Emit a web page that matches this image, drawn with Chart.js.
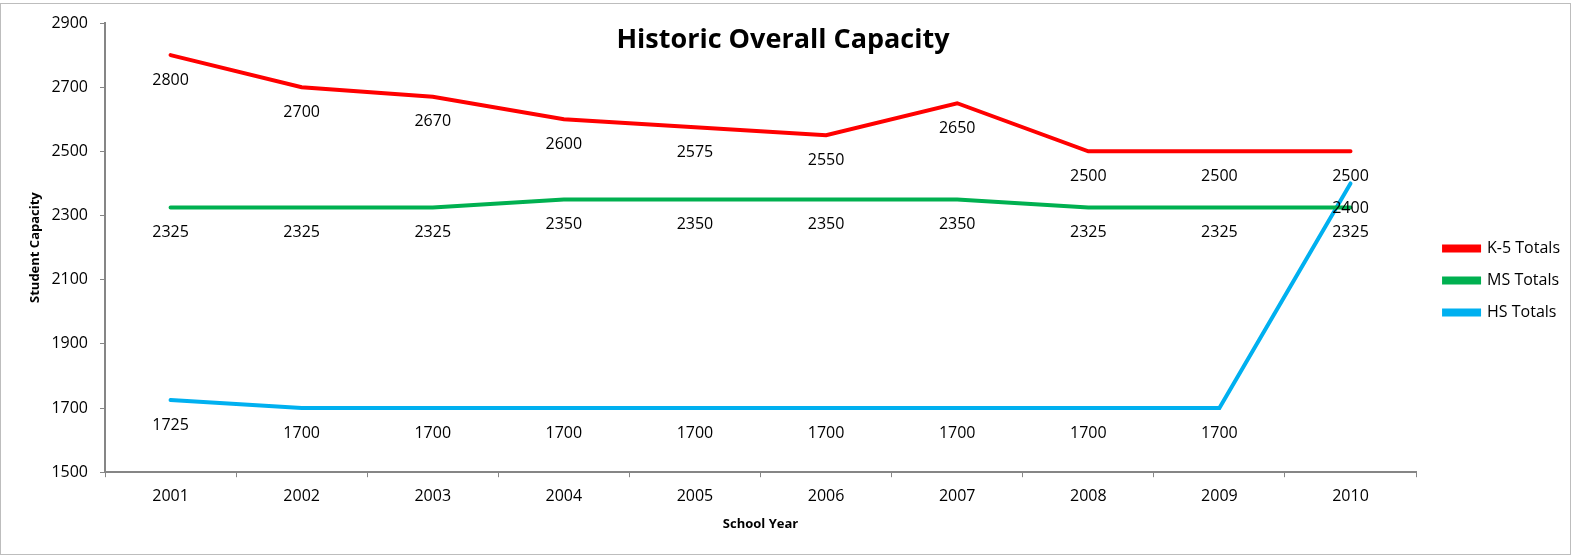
<!DOCTYPE html>
<html>
<head>
<meta charset="utf-8">
<script src="https://cdn.jsdelivr.net/npm/chart.js@4.4.0/dist/chart.umd.min.js"></script>
<style>
  html, body { margin: 0; padding: 0; background: #fff; }
  #wrap { width: 1573px; height: 556px; }
</style>
</head>
<body>
<div id="wrap"><canvas id="capacityChart" width="1573" height="556"></canvas></div>
<script>
// data
const years = ["2001", "2002", "2003", "2004", "2005", "2006", "2007", "2008", "2009", "2010"];
const k5Totals = [2800, 2700, 2670, 2600, 2575, 2550, 2650, 2500, 2500, 2500];
const msTotals = [2325, 2325, 2325, 2350, 2350, 2350, 2350, 2325, 2325, 2325];
const hsTotals = [1725, 1700, 1700, 1700, 1700, 1700, 1700, 1700, 1700, 2400];

const FONT = "'Open Sans', 'Liberation Sans', sans-serif";

// value labels under every point
const valueLabels = {
  id: "valueLabels",
  afterDatasetsDraw(chart) {
    const ctx = chart.ctx;
    ctx.save();
    ctx.font = "16px " + FONT;
    ctx.fillStyle = "#000";
    ctx.textAlign = "center";
    ctx.textBaseline = "middle";
    chart.data.datasets.forEach((ds, i) => {
      chart.getDatasetMeta(i).data.forEach((pt, j) => {
        ctx.fillText(String(ds.data[j]), pt.x, pt.y + 25);
      });
    });
    ctx.restore();
  },
};

// nudge the legend a bit away from the plot, like the original
const legendNudge = {
  id: "legendNudge",
  afterLayout(chart) {
    const lg = chart.legend;
    lg.left += 12;
    lg.right += 12;
    lg.top += 3;
    lg.bottom += 3;
  },
};

// title sits inside the plot and a thin frame goes round the chart
const frameAndTitle = {
  id: "frameAndTitle",
  afterDraw(chart) {
    const ctx = chart.ctx;
    ctx.save();
    ctx.strokeStyle = "#bdbdbd";
    ctx.lineWidth = 1;
    ctx.strokeRect(0.5, 3.5, 1570, 551);
    ctx.font = "bold 27px " + FONT;
    ctx.fillStyle = "#000";
    ctx.textAlign = "center";
    ctx.textBaseline = "middle";
    ctx.fillText("Historic Overall Capacity", 783, 40);
    ctx.restore();
  },
};

const ctx = document.getElementById("capacityChart").getContext("2d");
const capacityChart = new Chart(ctx, {
  type: "line",
  data: {
    labels: years,
    datasets: [
      { label: "K-5 Totals", data: k5Totals, borderColor: "#ff0000", backgroundColor: "#ff0000" },
      { label: "MS Totals", data: msTotals, borderColor: "#00b050", backgroundColor: "#00b050" },
      { label: "HS Totals", data: hsTotals, borderColor: "#00b0f0", backgroundColor: "#00b0f0" },
    ],
  },
  options: {
    responsive: false,
    animation: false,
    layout: { padding: { left: 27, top: 23, right: 15, bottom: 24 } },
    elements: {
      line: { borderWidth: 4, tension: 0, fill: false, borderCapStyle: "round" },
      point: { radius: 0, hoverRadius: 0 },
    },
    plugins: {
      title: { display: false },
      tooltip: { enabled: false },
      legend: {
        position: "right",
        labels: {
          font: { family: FONT, size: 16 },
          color: "#000",
          boxWidth: 35,
          boxHeight: 4,
          padding: 16,
        },
      },
    },
    scales: {
      x: {
        offset: true,
        grid: { offset: true, drawOnChartArea: false, tickLength: 5, color: "#868686" },
        border: { color: "#868686", width: 2 },
        ticks: { font: { family: FONT, size: 16 }, color: "#000", padding: 10 },
        title: {
          display: true,
          text: "School Year",
          font: { family: FONT, size: 13, weight: "bold" },
          color: "#000",
          padding: { top: 0, bottom: 0 },
        },
      },
      y: {
        min: 1500,
        max: 2900,
        ticks: {
          stepSize: 200,
          font: { family: FONT, size: 16 },
          color: "#000",
          padding: 12,
          callback: (v) => String(v),
        },
        grid: { drawOnChartArea: false, tickLength: 5, color: "#868686" },
        border: { color: "#868686", width: 2 },
        title: {
          display: true,
          text: "Student Capacity",
          font: { family: FONT, size: 13, weight: "bold" },
          color: "#000",
          padding: 0,
        },
        afterFit(scale) {
          scale.width = 78;
        },
      },
    },
  },
  plugins: [valueLabels, legendNudge, frameAndTitle],
});
</script>
</body>
</html>
